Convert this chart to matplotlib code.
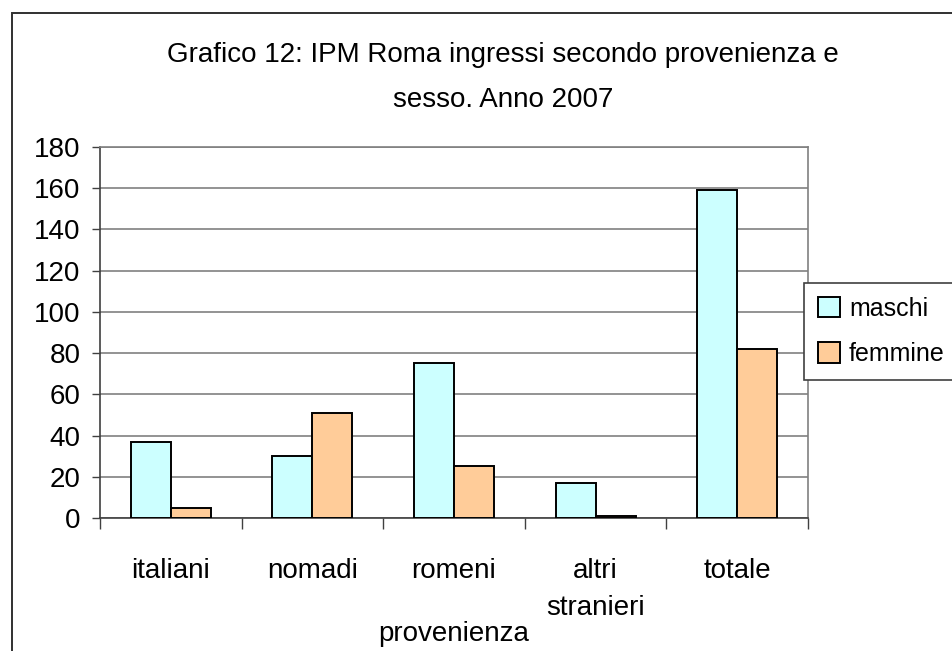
import matplotlib

matplotlib.use("Agg")
import matplotlib.pyplot as plt
import numpy as np
from matplotlib.patches import Rectangle

categories = ["italiani", "nomadi", "romeni", "altri\nstranieri", "totale"]
maschi = [37, 30, 75, 17, 159]
femmine = [5, 51, 25, 1, 82]
series = ["maschi", "femmine"]
yticks = [0, 20, 40, 60, 80, 100, 120, 140, 160, 180]

plt.rcParams["font.family"] = ["Liberation Sans Narrow", "Liberation Sans", "DejaVu Sans"]
FS = 20

W, H = 953, 651
fig = plt.figure(figsize=(W / 100, H / 100), dpi=100)
fig.patch.set_facecolor("white")

# outer chart-area frame (right and bottom run off the picture)
fig.patches.append(Rectangle((12 / W, -0.1), 1.2, 1 - 13 / H + 0.1, transform=fig.transFigure,
                             fill=False, edgecolor="#303030", lw=1.4))

ax = fig.add_axes([100 / W, 1 - 518 / H, 708 / W, 371 / H])
x = np.arange(len(categories))
bw = 0.283
ax.bar(x - bw / 2, maschi, bw, color="#CCFFFF", edgecolor="black", lw=1.4, label=series[0], zorder=3)
ax.bar(x + bw / 2, femmine, bw, color="#FFCC99", edgecolor="black", lw=1.4, label=series[1], zorder=3)

ax.set_xlim(-0.5, len(categories) - 0.5)
ax.set_ylim(0, 180)
ax.set_yticks(yticks)
ax.tick_params(axis="y", length=6, width=1, labelsize=FS, pad=8, color="#404040")
ax.yaxis.grid(True, color="#808080", lw=1.2, zorder=0)
ax.set_axisbelow(True)

ax.set_xticks(x)
ax.set_xticklabels(categories, fontsize=FS, linespacing=1.55, va="top")
ax.set_xticks(np.arange(len(categories) + 1) - 0.5, minor=True)
ax.tick_params(axis="x", which="major", length=0, pad=29)
ax.tick_params(axis="x", which="minor", length=8, width=1, color="#404040")
ax.set_xlabel("provenienza", fontsize=FS, labelpad=0)

for s in ["top", "right"]:
    ax.spines[s].set_color("#808080")
    ax.spines[s].set_linewidth(1.2)
for s in ["left", "bottom"]:
    ax.spines[s].set_color("#404040")
    ax.spines[s].set_linewidth(1.2)

fig.text(503 / W, 1 - 55 / H, "Grafico 12: IPM Roma ingressi secondo provenienza e",
         fontsize=FS, ha="center", va="center")
fig.text(503 / W, 1 - 100 / H, "sesso. Anno 2007", fontsize=FS, ha="center", va="center")

leg = fig.legend(loc="upper left", bbox_to_anchor=(804 / W, 1 - 283 / H), fontsize=18,
                 frameon=True, fancybox=False, edgecolor="#404040", framealpha=1,
                 handlelength=0.9, handleheight=0.9, handletextpad=0.35, labelspacing=0.85,
                 borderpad=0.55, borderaxespad=0)
leg.get_frame().set_linewidth(1.2)

fig.savefig("out.png", dpi=100)
